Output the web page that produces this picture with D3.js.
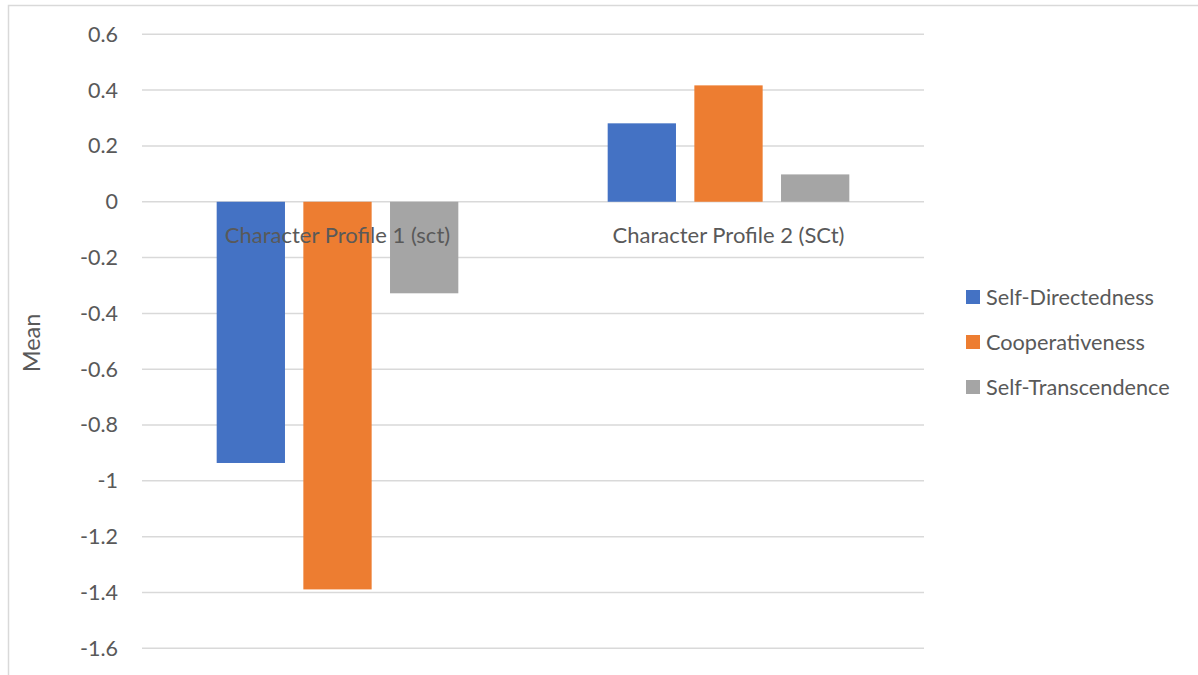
<!DOCTYPE html>
<html>
<head>
<meta charset="utf-8">
<script src="https://cdn.jsdelivr.net/npm/d3@7"></script>
<style>
  html, body { margin: 0; padding: 0; background: #fff; }
  svg { display: block; }
  text { font-family: Lato, "Open Sans", sans-serif; fill: #595959; }
</style>
</head>
<body>
<svg id="chart" width="1198" height="675"></svg>
<script>
// Character profile means per character dimension
const categories = ["Character Profile 1 (sct)", "Character Profile 2 (SCt)"];
const seriesNames = ["Self-Directedness", "Cooperativeness", "Self-Transcendence"];
const selfDirectedness = [-0.936, 0.281];
const cooperativeness = [-1.389, 0.417];
const selfTranscendence = [-0.328, 0.098];
const yTicks = [0.6, 0.4, 0.2, 0, -0.2, -0.4, -0.6, -0.8, -1, -1.2, -1.4, -1.6];
const colors = ["#4472C4", "#ED7D31", "#A5A5A5"];

const seriesValues = [selfDirectedness, cooperativeness, selfTranscendence];
const rows = categories.map((c, i) => ({
  category: c,
  values: seriesNames.map((s, j) => ({ series: s, value: seriesValues[j][i] }))
}));

const svg = d3.select("#chart");
const plot = { left: 142, right: 924, top: 34.3, bottom: 648.3 };

// chart frame
svg.append("rect")
  .attr("x", 8.5).attr("y", 5.5)
  .attr("width", 1300).attr("height", 800)
  .attr("fill", "none").attr("stroke", "#d9d9d9").attr("stroke-width", 1.5);

const y = d3.scaleLinear().domain([-1.6, 0.6]).range([plot.bottom, plot.top]);
const x0 = d3.scaleBand().domain(categories).range([plot.left, plot.right])
  .paddingInner(0.382).paddingOuter(0.191);
const x1 = d3.scaleBand().domain(seriesNames).range([0, x0.bandwidth()])
  .paddingInner(0.212).paddingOuter(0);
const color = d3.scaleOrdinal().domain(seriesNames).range(colors);

// gridlines
svg.append("g").selectAll("line").data(yTicks).join("line")
  .attr("x1", plot.left).attr("x2", plot.right)
  .attr("y1", d => y(d)).attr("y2", d => y(d))
  .attr("stroke", "#d9d9d9").attr("stroke-width", 1.5);

// y-axis tick labels
const yAxis = d3.axisLeft(y).tickValues(yTicks).tickSize(0).tickPadding(0)
  .tickFormat(d => d3.format("")(+d.toFixed(1)).replace("−", "-"));
const yg = svg.append("g").attr("transform", `translate(118,0)`).call(yAxis);
yg.select(".domain").remove();
yg.selectAll("text").attr("font-size", 21.5).attr("fill", "#595959")
  .style("font-family", "Lato, 'Open Sans', sans-serif");

// bars
svg.append("g").selectAll("g").data(rows).join("g")
  .attr("transform", d => `translate(${x0(d.category)},0)`)
  .selectAll("rect").data(d => d.values).join("rect")
  .attr("x", d => x1(d.series))
  .attr("width", x1.bandwidth())
  .attr("y", d => y(Math.max(0, d.value)))
  .attr("height", d => Math.abs(y(d.value) - y(0)))
  .attr("fill", d => color(d.series));

// category labels just below the zero line
svg.append("g").selectAll("text").data(categories).join("text")
  .attr("x", d => x0(d) + x0.bandwidth() / 2)
  .attr("y", y(0) + 41)
  .attr("text-anchor", "middle")
  .attr("font-size", 22)
  .text(d => d);

// y-axis title
svg.append("text")
  .attr("transform", "translate(40,343) rotate(-90)")
  .attr("text-anchor", "middle")
  .attr("font-size", 23.5)
  .text("Mean");

// legend
const legend = svg.append("g").selectAll("g").data(seriesNames).join("g")
  .attr("transform", (d, i) => `translate(966,${297 + i * 45})`);
legend.append("rect")
  .attr("x", 0).attr("y", -7).attr("width", 14).attr("height", 14)
  .attr("fill", d => color(d));
legend.append("text")
  .attr("x", 20).attr("y", 0).attr("dy", "0.35em")
  .attr("font-size", 21.7)
  .text(d => d);
</script>
</body>
</html>
